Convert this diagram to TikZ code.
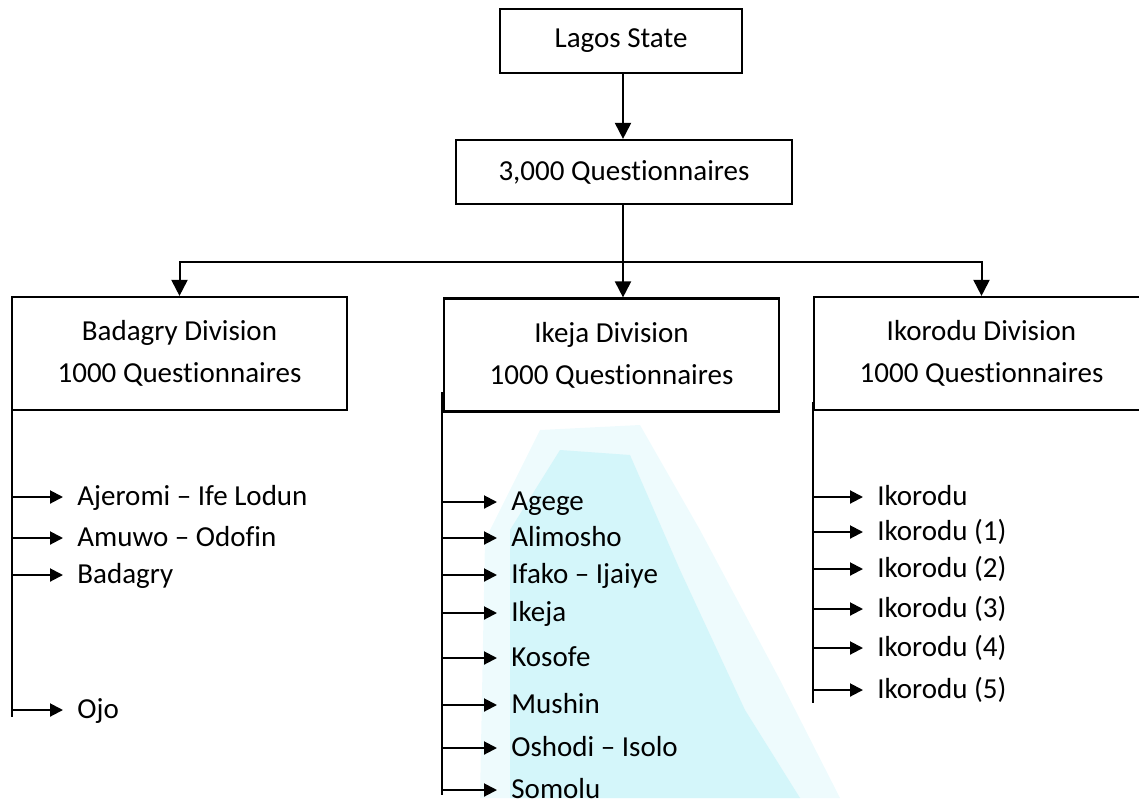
\documentclass[tikz,border=0pt]{standalone}
\usepackage{fontspec}
\setmainfont{Carlito}[Ligatures={TeX,NoCommon}]
\usepackage{xcolor}
\definecolor{wmark}{HTML}{D4F6FA}
\definecolor{wmarkl}{HTML}{EEFBFD}
\usetikzlibrary{arrows.meta, positioning}
\tikzset{
    box/.style={
        draw, line width=1.1pt,
        inner sep=0pt, align=center,
        font=\fontsize{14.5}{21}\selectfont
    },
    divbox/.style={
        box,
        minimum width=167.5pt,
        minimum height=56.5pt
    },
    leaf/.style={
        anchor=west, inner xsep=7pt, inner ysep=0pt,
        text height=10pt, text depth=2pt,
        font=\fontsize{14.5}{21}\selectfont
    },
    wire/.style={line width=1pt},
    conn/.style={
        line width=1pt,
        -{Triangle[length=8pt, width=8pt]},
    },
    connl/.style={
        line width=1pt,
        -{Triangle[length=6.5pt, width=6.5pt]},
    },
}

\begin{document}
\begin{tikzpicture}[x=0.5pt, y=-0.5pt]
        \useasboundingbox (0,0) rectangle (1139,798);

        % faint background mark
        \fill[wmarkl] (480,798) -- (485,540) -- (540,430) -- (640,425)
            -- (700,530) -- (780,680) -- (840,798) -- cycle;
        \fill[wmark] (510,798) -- (510,530) -- (560,450) -- (630,455)
            -- (680,570) -- (745,710) -- (800,798) -- cycle;

        \node[box, minimum width=121pt, minimum height=32pt] (state) at (621,41) {Lagos State};
        \node[box, minimum width=168pt, minimum height=32pt] (total) at (624,172) {3,000 Questionnaires};

        \node[divbox] (badagry) at (179.5,353.5) {Badagry Division\\1000 Questionnaires};
        \node[divbox] (ikeja) at (611.5,355) {Ikeja Division\\1000 Questionnaires};
        \node[divbox] (ikorodu) at (981.5,353.5) {Ikorodu Division\\1000 Questionnaires};

        \draw[conn] (state.south -| 623,0) -- (total.north -| 623,0);

        \coordinate (bar) at (623,262);
        \draw[wire] (total.south -| bar) -- (bar);
        \draw[conn] (bar) -| (badagry.north);
        \draw[conn] (bar) -- (bar |- ikeja.north);
        \draw[conn] (bar) -| (ikorodu.north);

        % spines under each division
        \coordinate (bs0) at (12,402);
        \coordinate (bs1) at (12,717);
        \coordinate (ks0) at (442,392);
        \coordinate (ks1) at (442,795);
        \coordinate (rs0) at (813,402);
        \coordinate (rs1) at (813,703);
        \draw[wire] (bs0) -- (bs1);
        \draw[wire] (ks0) -- (ks1);
        \draw[wire] (rs0) -- (rs1);

        \foreach \txt/\y [count=\i] in {Ajeromi -- Ife Lodun/497, Amuwo -- Odofin/538,
                Badagry/575, Ojo/710}
            \node[leaf] (b\i) at (63,\y) {\txt};

        \foreach \txt/\y [count=\i] in {Agege/502, Alimosho/538, Ifako -- Ijaiye/575,
                Ikeja/613, Kosofe/658, Mushin/705, Oshodi -- Isolo/748, Somolu/790}
            \node[leaf] (k\i) at (497,\y) {\txt};

        \foreach \txt/\y [count=\i] in {Ikorodu/497, Ikorodu (1)/532, Ikorodu (2)/569,
                Ikorodu (3)/609, Ikorodu (4)/648, Ikorodu (5)/690}
            \node[leaf] (r\i) at (863,\y) {\txt};

        \foreach \i in {1, ..., 4}
            \draw[connl] (b\i.west -| bs0) -- (b\i.west);
        \foreach \i in {1, ..., 8}
            \draw[connl] (k\i.west -| ks0) -- (k\i.west);
        \foreach \i in {1, ..., 6}
            \draw[connl] (r\i.west -| rs0) -- (r\i.west);
    \end{tikzpicture}
\end{document}
